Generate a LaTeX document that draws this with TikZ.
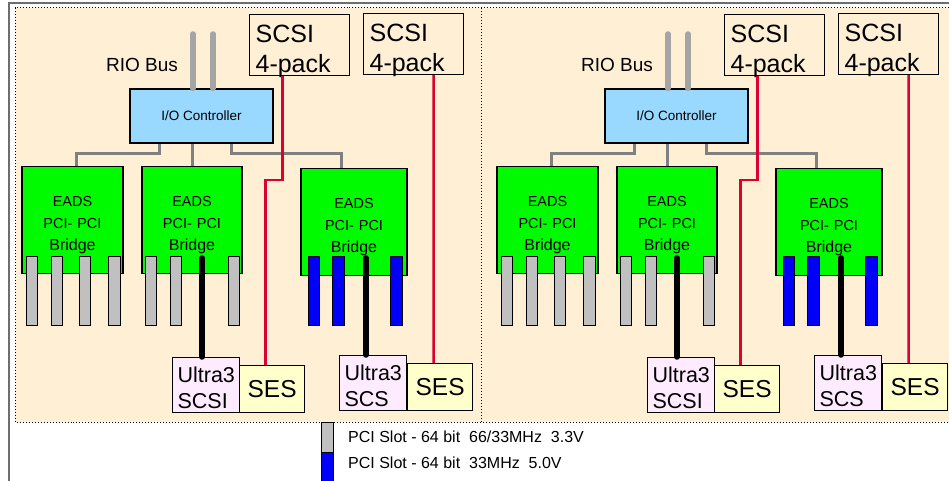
\documentclass[tikz,border=0pt]{standalone}
\usepackage{fontspec}
\setmainfont{Liberation Sans}
\definecolor{peach}{RGB}{255,240,213}
\definecolor{ctrlblue}{RGB}{153,217,255}
\definecolor{bridgegreen}{RGB}{0,250,0}
\definecolor{ultrapink}{RGB}{255,235,255}
\definecolor{sesyellow}{RGB}{255,255,204}
\definecolor{wirered}{RGB}{220,0,50}
\definecolor{slotgray}{RGB}{192,192,192}
\definecolor{slotblue}{RGB}{0,0,250}
\definecolor{busgray}{RGB}{128,128,128}
\definecolor{riogray}{RGB}{165,165,165}
\definecolor{framegray}{RGB}{110,110,110}
\tikzset{
  box/.style={draw, line width=1.2bp},
  packbox/.style={box, anchor=north west, inner xsep=6bp, inner ysep=0pt, text width=88bp, align=left, text height=28bp, text depth=33bp, font=\fontsize{25bp}{30bp}\selectfont},
  ultrabox/.style={box, fill=ultrapink, anchor=north west, inner xsep=5bp, inner ysep=0pt, text width=57bp, align=left, text height=25bp, text depth=30bp, font=\fontsize{21.5bp}{26bp}\selectfont},
  sesbox/.style={box, fill=sesyellow, anchor=north west, minimum width=65bp, minimum height=47bp, inner sep=0pt, font=\fontsize{24.5bp}{29bp}\selectfont},
  bridgebox/.style={box, fill=bridgegreen, anchor=north, inner sep=0pt, align=center, text height=40bp, text depth=67bp, font=\fontsize{14.5bp}{22bp}\selectfont},
  ctrlbox/.style={box, fill=ctrlblue, minimum width=143bp, minimum height=54bp, inner sep=0pt, font=\fontsize{13.5bp}{16bp}\selectfont},
  slot/.style={draw, line width=1bp, minimum width=11.5bp, minimum height=68bp, inner sep=0pt},
  bus/.style={busgray, line width=3bp},
  rio/.style={riogray, line width=5.5bp, line cap=round},
  wire/.style={wirered, line width=2.5bp},
  cable/.style={black, line width=5.5bp, line cap=round}
}
\begin{document}
\begin{tikzpicture}[x=1bp, y=-1bp]
\useasboundingbox (0,0) rectangle (949,481);
\fill[white] (0,0) rectangle (949,481);
\fill[peach] (15,8) rectangle (949,422);
\draw[framegray, line width=1.5bp] (9,481) -- (9,3) -- (949,3);
\draw[dotted, line width=1bp] (949,8) -- (15,8) -- (15,422) -- (949,422) (481,8) -- (481,422);

\foreach \p/\dx in {l/0,r/475}{
\begin{scope}[xshift=\dx bp]
  \node[packbox] (packa\p) at (249,14) {SCSI\\4-pack};
  \node[packbox] (packb\p) at (363,13) {SCSI\\4-pack};
  \node[font=\fontsize{19bp}{23bp}\selectfont] (riolbl\p) at (142,65) {RIO Bus};
  \node[ctrlbox] (io\p) at (201.5,116) {I/O Controller};
  \node[bridgebox, text width=101bp] (bra\p) at (72.5,166) {EADS\\PCI- PCI\\{\fontsize{16bp}{22bp}\selectfont Bridge}};
  \node[bridgebox, text width=100bp] (brb\p) at (192,166) {EADS\\PCI- PCI\\{\fontsize{16bp}{22bp}\selectfont Bridge}};
  \node[bridgebox, text width=106bp] (brc\p) at (354,168) {EADS\\PCI- PCI\\{\fontsize{16bp}{22bp}\selectfont Bridge}};
  \foreach \x/\c [count=\i] in {32/slotgray,57/slotgray,85/slotgray,114.5/slotgray,151/slotgray,176/slotgray,234/slotgray,314/slotblue,338.5/slotblue,396.5/slotblue}
    \node[slot, fill=\c] (slot\p\i) at (\x,291) {};
  \node[ultrabox] (ultraa\p) at (172,357) {Ultra3\\SCSI};
  \node[sesbox] (sesa\p) at (239,365) {SES};
  \node[ultrabox] (ultrab\p) at (339,355) {Ultra3\\SCS};
  \node[sesbox] (sesb\p) at (407,363) {SES};

  % RIO bus and bridge links
  \coordinate (rioa\p) at (193,34);
  \coordinate (riob\p) at (213,34);
  \draw[rio] (rioa\p) -- (rioa\p |- io\p.north);
  \draw[rio] (riob\p) -- (riob\p |- io\p.north);
  \draw[bus] ([xshift=-42.5bp]io\p.south) -- ++(0,10) -| ([xshift=3.5bp]bra\p.north);
  \draw[bus] (brb\p.north |- io\p.south) -- (brb\p.north);
  \draw[bus] ([xshift=29.5bp]io\p.south) -- ++(0,10) -| ([xshift=-13bp]brc\p.north);

  % SCSI cables
  \coordinate (porta\p) at (202,258);
  \coordinate (portb\p) at (366,258);
  \draw[cable] (porta\p) -- (porta\p |- ultraa\p.north);
  \draw[cable] (portb\p) -- (portb\p |- ultrab\p.north);
  \draw[wire] ([xshift=-17bp]packa\p.south) -- ++(0,104) -| ([xshift=-6.5bp]sesa\p.north);
  \draw[wire] ([xshift=20bp]packb\p.south) -- ([xshift=-6.5bp]sesb\p.north);
\end{scope}
}

% legend
\node[slot, fill=slotgray, minimum width=12bp, minimum height=30bp] (keygray) at (327,437) {};
\node[slot, fill=slotblue, minimum width=12bp, minimum height=33bp] (keyblue) at (327,468.5) {};
\node[anchor=west, inner sep=0pt, font=\fontsize{16bp}{20bp}\selectfont] (keygraytxt) at (348,437) {PCI Slot - 64 bit\ \ 66/33MHz\ \ 3.3V};
\node[anchor=west, inner sep=0pt, font=\fontsize{16bp}{20bp}\selectfont] (keybluetxt) at (348,463) {PCI Slot - 64 bit\ \ 33MHz\ \ 5.0V};
\end{tikzpicture}
\end{document}
